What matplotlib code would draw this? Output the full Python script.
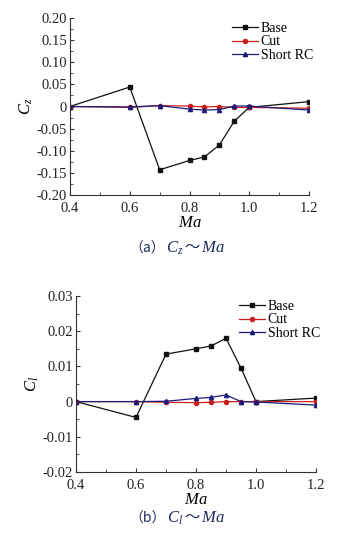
import numpy as np
import matplotlib.pyplot as plt
from matplotlib.ticker import MultipleLocator, FuncFormatter
from matplotlib.offsetbox import TextArea, HPacker, AnchoredOffsetbox

plt.rcParams['font.family'] = ['Liberation Serif', 'Noto Sans CJK SC', 'DejaVu Sans']
plt.rcParams['mathtext.fontset'] = 'custom'
plt.rcParams['mathtext.it'] = 'Liberation Serif:italic'
plt.rcParams['mathtext.rm'] = 'Liberation Serif'

ma = [0.4, 0.6, 0.7, 0.8, 0.85, 0.9, 0.95, 1.0, 1.2]

cz_base = [0.0, 0.044, -0.143, -0.122, -0.114, -0.087, -0.033, -0.002, 0.011]
cz_cut = [0.0, -0.002, 0.002, 0.001, -0.001, 0.0, -0.002, -0.002, -0.004]
cz_short = [0.0, -0.001, 0.002, -0.006, -0.008, -0.007, 0.001, 0.001, -0.008]

cl_base = [0.0, -0.0045, 0.0135, 0.015, 0.0158, 0.018, 0.0095, 0.0, 0.001]
cl_cut = [0.0, 0.0, -0.0002, -0.0003, -0.0002, 0.0, 0.0, 0.0, 0.0]
cl_short = [0.0, 0.0, 0.0001, 0.0009, 0.0012, 0.0019, 0.0, -0.0001, -0.001]

colors = ['#111111', '#cc2020', '#1a1a7a']
W, H = 354, 547
fig = plt.figure(figsize=(W/100, H/100), dpi=100)

def setup(ax, ylim, ymaj, ymin, ylab):
    for s in ['top', 'right']:
        ax.spines[s].set_visible(False)
    for s in ['left', 'bottom']:
        ax.spines[s].set_color('#333333')
        ax.spines[s].set_linewidth(0.8)
    ax.set_xlim(0.4, 1.2)
    ax.set_ylim(*ylim)
    ax.xaxis.set_major_locator(MultipleLocator(0.2))
    ax.xaxis.set_minor_locator(MultipleLocator(0.1))
    ax.yaxis.set_major_locator(MultipleLocator(ymaj))
    ax.yaxis.set_minor_locator(MultipleLocator(ymin))
    ax.xaxis.set_major_formatter(FuncFormatter(lambda v, p: '%.1f' % v))
    ax.yaxis.set_major_formatter(FuncFormatter(lambda v, p: '0' if abs(v) < 1e-9 else '%.2f' % v))
    ax.tick_params(which='both', direction='in', labelsize=10.5, colors='#333333', labelcolor='#222222')
    ax.tick_params(which='major', length=3)
    ax.tick_params(axis='y', which='major', pad=2)
    ax.tick_params(axis='x', which='major', pad=5)
    ax.tick_params(which='minor', length=2)
    ax.set_xlabel('$Ma$', fontsize=12, labelpad=0)
    ax.set_ylabel(ylab, fontsize=12, labelpad=1)

def draw(ax, base, cut, short):
    ax.plot(ma, base, color=colors[0], marker='s', markersize=3, linewidth=0.9, label='Base')
    ax.plot(ma, cut, color=colors[1], marker='o', markersize=3, linewidth=0.9, label='Cut')
    ax.plot(ma, short, color=colors[2], marker='^', markersize=3, linewidth=0.9, label='Short RC')
    ax.legend(loc='upper right', frameon=False, fontsize=10, handlelength=1.9,
              handletextpad=0.2, labelspacing=0.05, borderaxespad=0.0,
              bbox_to_anchor=(1.04, 1.01))

def caption(y, tag, sym):
    cc = '#1e2a5a'
    parts = [TextArea('（%s）' % tag, textprops=dict(fontsize=10, color=cc, family=['Noto Sans CJK SC'])),
             TextArea(sym, textprops=dict(fontsize=12, color=cc)),
             TextArea('～', textprops=dict(fontsize=11, color=cc, family=['Noto Sans CJK SC'])),
             TextArea('$Ma$', textprops=dict(fontsize=12, color=cc))]
    box = HPacker(children=parts, align='baseline', pad=0, sep=1)
    fig.add_artist(AnchoredOffsetbox(loc='center', child=box, frameon=False,
                                     bbox_to_anchor=(0.5, y), bbox_transform=fig.transFigure, pad=0))

ax1 = fig.add_axes([70/W, 1-195/H, 239/W, 177/H])
setup(ax1, (-0.2, 0.2), 0.05, 0.025, '$C_z$')
draw(ax1, cz_base, cz_cut, cz_short)

ax2 = fig.add_axes([76/W, 1-472/H, 240/W, 176/H])
setup(ax2, (-0.02, 0.03), 0.01, 0.005, '$C_l$')
draw(ax2, cl_base, cl_cut, cl_short)

caption(1-248/H, 'a', '$C_z$')
caption(1-518/H, 'b', '$C_l$')

fig.savefig('out.png', dpi=100)
